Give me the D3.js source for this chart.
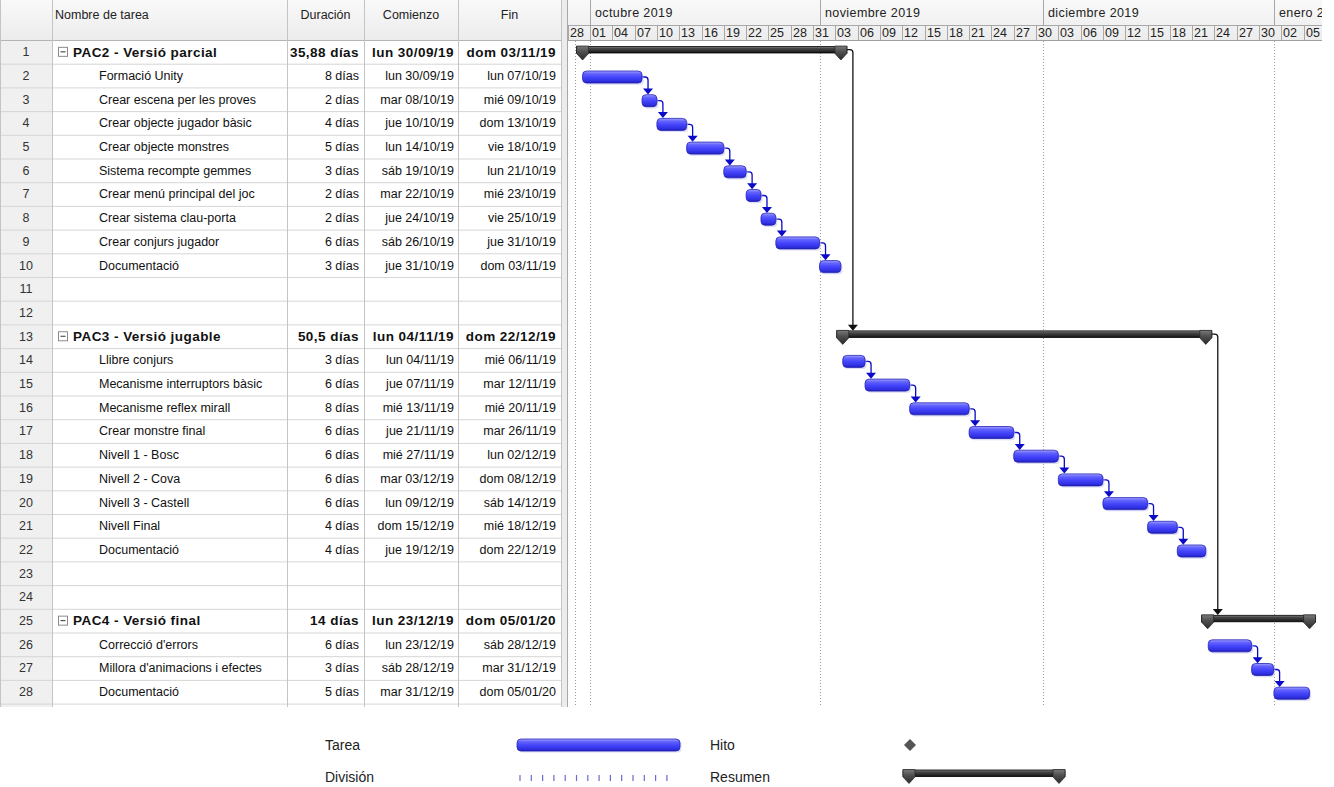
<!DOCTYPE html>
<html>
<head>
<meta charset="utf-8">
<script src="https://cdn.jsdelivr.net/npm/d3@7"></script>
<style>
  body { margin: 0; background: #fff; }
  svg { display: block; font-family: "Liberation Sans", Arial, sans-serif; }
</style>
</head>
<body>
<svg id="chart" width="1334" height="787"></svg>
<script>
// ---- Project data -------------------------------------------------------
const rowIds = d3.range(1, 29);

const taskNames = [
  "PAC2 - Versió parcial", "Formació Unity", "Crear escena per les proves",
  "Crear objecte jugador bàsic", "Crear objecte monstres", "Sistema recompte gemmes",
  "Crear menú principal del joc", "Crear sistema clau-porta", "Crear conjurs jugador",
  "Documentació", "", "",
  "PAC3 - Versió jugable", "Llibre conjurs", "Mecanisme interruptors bàsic",
  "Mecanisme reflex mirall", "Crear monstre final", "Nivell 1 - Bosc",
  "Nivell 2 - Cova", "Nivell 3 - Castell", "Nivell Final", "Documentació", "", "",
  "PAC4 - Versió final", "Correcció d'errors", "Millora d'animacions i efectes",
  "Documentació"
];

const summaryRows = [1, 13, 25];

const durations = [
  "35,88 días", "8 días", "2 días", "4 días", "5 días", "3 días", "2 días", "2 días",
  "6 días", "3 días", "", "",
  "50,5 días", "3 días", "6 días", "8 días", "6 días", "6 días", "6 días", "6 días",
  "4 días", "4 días", "", "",
  "14 días", "6 días", "3 días", "5 días"
];

const starts = [
  "2019-09-30 00:00", "2019-09-30 00:00", "2019-10-08 00:00", "2019-10-10 00:00",
  "2019-10-14 00:00", "2019-10-19 00:00", "2019-10-22 00:00", "2019-10-24 00:00",
  "2019-10-26 00:00", "2019-10-31 21:00", null, null,
  "2019-11-04 00:00", "2019-11-04 00:00", "2019-11-07 00:00", "2019-11-13 00:00",
  "2019-11-21 00:00", "2019-11-27 00:00", "2019-12-03 00:00", "2019-12-09 00:00",
  "2019-12-15 00:00", "2019-12-19 00:00", null, null,
  "2019-12-23 02:00", "2019-12-23 04:00", "2019-12-28 23:59", "2019-12-31 23:59"
];

const finishes = [
  "2019-11-03 18:00", "2019-10-07 23:59", "2019-10-09 23:59", "2019-10-13 23:59",
  "2019-10-18 23:59", "2019-10-21 23:59", "2019-10-23 23:59", "2019-10-25 23:59",
  "2019-10-31 21:00", "2019-11-03 18:00", null, null,
  "2019-12-22 20:00", "2019-11-06 23:59", "2019-11-12 23:59", "2019-11-20 23:59",
  "2019-11-26 23:59", "2019-12-02 23:59", "2019-12-08 23:59", "2019-12-14 23:59",
  "2019-12-18 23:59", "2019-12-22 20:00", null, null,
  "2020-01-05 19:00", "2019-12-28 23:59", "2019-12-31 23:00", "2020-01-05 19:00"
];

// predecessor -> successor (row ids)
const links = [
  [2, 3], [3, 4], [4, 5], [5, 6], [6, 7], [7, 8], [8, 9], [9, 10],
  [14, 15], [15, 16], [16, 17], [17, 18], [18, 19], [19, 20], [20, 21], [21, 22],
  [26, 27], [27, 28],
  [1, 13], [13, 25]
];

const columnHeads = ["Nombre de tarea", "Duración", "Comienzo", "Fin"];
const monthLabels = ["octubre 2019", "noviembre 2019", "diciembre 2019", "enero 2020"];
const gridDates = ["2019-09-29 00:00", "2019-10-01 00:00", "2019-11-01 00:00",
                   "2019-12-01 00:00", "2020-01-01 00:00"];
const legendLabels = ["Tarea", "División", "Hito", "Resumen"];

// ---- Formatting ---------------------------------------------------------
const locale = d3.timeFormatLocale({
  dateTime: "%A, %e de %B de %Y, %X", date: "%d/%m/%Y", time: "%H:%M:%S",
  periods: ["AM", "PM"],
  days: ["domingo", "lunes", "martes", "miércoles", "jueves", "viernes", "sábado"],
  shortDays: ["dom", "lun", "mar", "mié", "jue", "vie", "sáb"],
  months: ["enero", "febrero", "marzo", "abril", "mayo", "junio", "julio", "agosto",
           "septiembre", "octubre", "noviembre", "diciembre"],
  shortMonths: ["ene", "feb", "mar", "abr", "may", "jun", "jul", "ago", "sep", "oct", "nov", "dic"]
});
const fmtDate = locale.format("%a %d/%m/%y");
const fmtTick = locale.format("%d");
const parse = d3.timeParse("%Y-%m-%d %H:%M");

const rows = rowIds.map((id, i) => ({
  id,
  name: taskNames[i],
  summary: summaryRows.includes(id),
  duration: durations[i],
  start: starts[i] ? parse(starts[i]) : null,
  finish: finishes[i] ? parse(finishes[i]) : null
}));
const byId = new Map(rows.map(r => [r.id, r]));

// ---- Layout -------------------------------------------------------------
const headerH = 40, rowH = 23.7, tableTop = 40;
const colEdges = [0, 52, 287, 364, 458, 561];
const ganttX0 = 568, ganttX1 = 1322, bodyBottom = 707;
const font = 12.5, boldFont = 13.5;
const boldSpacing = "0.45px";

const x = d3.scaleTime()
  .domain([parse("2019-10-01 00:00"), parse("2020-01-01 00:00")])
  .range([590, 590 + 92 * 7.434]);
const rowTop = i => tableTop + i * rowH;

const svg = d3.select("#chart");
const defs = svg.append("defs");

function grad(id, stops) {
  const g = defs.append("linearGradient").attr("id", id)
    .attr("x1", 0).attr("y1", 0).attr("x2", 0).attr("y2", 1);
  stops.forEach(([o, c]) => g.append("stop").attr("offset", o).attr("stop-color", c));
}
grad("taskGrad", [["0%", "#a4a4ff"], ["22%", "#6464ff"], ["55%", "#4242fa"], ["85%", "#3030e0"], ["100%", "#1c1cb4"]]);
grad("sumGrad", [["0%", "#8a8a8a"], ["30%", "#474747"], ["70%", "#2c2c2c"], ["100%", "#111"]]);
grad("capGrad", [["0%", "#7a7a7a"], ["40%", "#505050"], ["100%", "#2a2a2a"]]);
grad("headGrad", [["0%", "#f9f9f9"], ["100%", "#ececec"]]);

defs.append("clipPath").attr("id", "ganttClip")
  .append("rect").attr("x", ganttX0).attr("y", 0)
  .attr("width", ganttX1 - ganttX0).attr("height", bodyBottom);

// ---- Table --------------------------------------------------------------
const table = svg.append("g");

// header band
table.append("rect").attr("x", 0).attr("y", 0).attr("width", colEdges[5]).attr("height", headerH)
  .attr("fill", "url(#headGrad)");
// row-number column
table.append("rect").attr("x", 0).attr("y", tableTop).attr("width", colEdges[1])
  .attr("height", bodyBottom - tableTop).attr("fill", "#f0f0f0");

// horizontal row lines
table.selectAll("line.hrow").data(d3.range(0, 29)).join("line")
  .attr("x1", 0).attr("x2", colEdges[5])
  .attr("y1", i => rowTop(i) + 0.5).attr("y2", i => rowTop(i) + 0.5)
  .attr("stroke", i => i === 0 ? "#b4b4b4" : "#d6d6d6");
// vertical column lines
table.selectAll("line.vcol").data(colEdges).join("line")
  .attr("x1", d => d + 0.5).attr("x2", d => d + 0.5)
  .attr("y1", 0).attr("y2", bodyBottom)
  .attr("stroke", "#c4c4c4");

// column headers
const headX = [55, (colEdges[2] + colEdges[3]) / 2, (colEdges[3] + colEdges[4]) / 2, (colEdges[4] + colEdges[5]) / 2];
table.selectAll("text.head").data(columnHeads).join("text")
  .attr("x", (d, i) => headX[i]).attr("y", 14.5).attr("dy", "0.35em")
  .attr("text-anchor", (d, i) => i === 0 ? "start" : "middle")
  .attr("font-size", font).attr("fill", "#222").text(d => d);

const rowG = table.selectAll("g.row").data(rows).join("g")
  .attr("transform", (d, i) => `translate(0,${rowTop(i) + rowH / 2})`);

rowG.append("text").attr("x", colEdges[1] / 2).attr("dy", "0.35em")
  .attr("text-anchor", "middle").attr("font-size", font).attr("fill", "#333")
  .text(d => d.id);

// collapse box for summary rows
const sumG = rowG.filter(d => d.summary);
sumG.append("rect").attr("x", 58.5).attr("y", -4.5).attr("width", 9).attr("height", 9)
  .attr("fill", "#fff").attr("stroke", "#8a8a8a");
sumG.append("line").attr("x1", 60.5).attr("x2", 65.5).attr("y1", 0).attr("y2", 0)
  .attr("stroke", "#333");

function cellText(sel, xPos, anchor, accessor) {
  sel.append("text").attr("x", xPos).attr("dy", "0.35em").attr("text-anchor", anchor)
    .attr("font-size", d => d.summary ? boldFont : font)
    .attr("font-weight", d => d.summary ? "bold" : "normal")
    .attr("letter-spacing", d => d.summary ? boldSpacing : null)
    .attr("fill", "#111").text(accessor);
}
cellText(rowG, d => d.summary ? 73 : 99, "start", d => d.name);
cellText(rowG, colEdges[3] - 5, "end", d => d.duration);
cellText(rowG, colEdges[4] - 4, "end", d => d.start ? fmtDate(d.start) : "");
cellText(rowG, colEdges[5] - 5, "end", d => d.finish ? fmtDate(d.finish) : "");

// splitter between table and chart
svg.append("rect").attr("x", 562).attr("y", 0).attr("width", 5).attr("height", bodyBottom)
  .attr("fill", "#ececec");
svg.append("line").attr("x1", 567.5).attr("x2", 567.5).attr("y1", 0).attr("y2", bodyBottom)
  .attr("stroke", "#a8a8a8");

// ---- Gantt --------------------------------------------------------------
const gantt = svg.append("g").attr("clip-path", "url(#ganttClip)");

// timescale header
gantt.append("rect").attr("x", ganttX0).attr("y", 0).attr("width", ganttX1 - ganttX0)
  .attr("height", headerH).attr("fill", "url(#headGrad)");

const months = d3.timeMonth.range(parse("2019-10-01 00:00"), parse("2020-02-01 00:00"));
gantt.selectAll("line.mon").data(months).join("line")
  .attr("x1", d => Math.round(x(d)) + 0.5).attr("x2", d => Math.round(x(d)) + 0.5)
  .attr("y1", 0).attr("y2", 25).attr("stroke", "#a8a8a8");
gantt.selectAll("text.mon").data(months).join("text")
  .attr("x", d => Math.round(x(d)) + 5).attr("y", 13).attr("dy", "0.35em")
  .attr("letter-spacing", "0.4px")
  .attr("font-size", font).attr("fill", "#222").text((d, i) => monthLabels[i]);

const ticks = d3.timeDay.range(parse("2019-09-28 00:00"), parse("2020-01-12 00:00"), 3);
gantt.append("line").attr("x1", ganttX0).attr("x2", ganttX1).attr("y1", 25.5).attr("y2", 25.5)
  .attr("stroke", "#a8a8a8");
gantt.selectAll("line.tick").data(ticks).join("line")
  .attr("x1", d => Math.round(x(d)) + 0.5).attr("x2", d => Math.round(x(d)) + 0.5)
  .attr("y1", 25).attr("y2", headerH).attr("stroke", "#a8a8a8");
gantt.selectAll("text.tick").data(ticks).join("text")
  .attr("x", d => Math.round(x(d)) + 2).attr("y", 33).attr("dy", "0.35em")
  .attr("font-size", font).attr("fill", "#222").text(d => fmtTick(d));
gantt.append("line").attr("x1", ganttX0).attr("x2", ganttX1).attr("y1", headerH + 0.5).attr("y2", headerH + 0.5)
  .attr("stroke", "#a0a0a0");

// dotted gridlines
gantt.selectAll("line.grid").data(gridDates.map(parse)).join("line")
  .attr("x1", d => Math.round(x(d)) + 0.5).attr("x2", d => Math.round(x(d)) + 0.5)
  .attr("y1", headerH + 1).attr("y2", bodyBottom)
  .attr("stroke", "#9c9c9c").attr("stroke-dasharray", "1,2");

const indexOf = id => id - 1;
const bars = rows.filter(r => r.start && !r.summary);
const sums = rows.filter(r => r.summary);

// links
const linkG = gantt.append("g");
links.forEach(([a, b]) => {
  const p = byId.get(a);
  const isSum = p.summary;
  const endX = isSum ? x(p.finish) + 6 : x(p.finish);
  const cy = isSum ? rowTop(indexOf(a)) + 9.7 : rowTop(indexOf(a)) + 13.3;
  const ax = endX + 6;
  const tipY = isSum ? rowTop(indexOf(b)) + 6.3 : rowTop(indexOf(b)) + 7;
  const col = isSum ? "#111" : "#0a0ac8";
  linkG.append("path")
    .attr("d", `M${endX},${cy} H${ax - 3} Q${ax},${cy} ${ax},${cy + 3} V${tipY - 5}`)
    .attr("fill", "none").attr("stroke", col).attr("stroke-width", 1.3);
  linkG.append("path")
    .attr("d", `M${ax - 5},${tipY - 6} L${ax + 5},${tipY - 6} L${ax},${tipY} Z`)
    .attr("fill", col);
});

// task bars
const barG = gantt.append("g");
barG.selectAll("rect.shadow").data(bars).join("rect")
  .attr("x", d => x(d.start) + 1.5).attr("y", d => rowTop(indexOf(d.id)) + 9)
  .attr("width", d => x(d.finish) - x(d.start)).attr("height", 12).attr("rx", 4)
  .attr("fill", "#c4c4ee").attr("opacity", 0.6);
barG.selectAll("rect.bar").data(bars).join("rect")
  .attr("x", d => x(d.start)).attr("y", d => rowTop(indexOf(d.id)) + 7.3)
  .attr("width", d => x(d.finish) - x(d.start)).attr("height", 12).attr("rx", 4)
  .attr("fill", "url(#taskGrad)").attr("stroke", "#2424b8").attr("stroke-width", 0.8);

// summary bars
function summaryShape(g, x0, x1, top) {
  g.append("rect").attr("x", x0 - 6).attr("y", top).attr("width", x1 - x0 + 12).attr("height", 6.5)
    .attr("fill", "url(#sumGrad)").attr("stroke", "#000").attr("stroke-width", 0.8);
  [x0, x1].forEach(cx => {
    g.append("path")
      .attr("d", `M${cx - 6},${top - 0.5} H${cx + 6} V${top + 7} L${cx},${top + 13.5} L${cx - 6},${top + 7} Z`)
      .attr("fill", "url(#capGrad)").attr("stroke", "#222").attr("stroke-width", 0.7);
  });
}
sums.forEach(d => summaryShape(gantt.append("g"), x(d.start), x(d.finish), rowTop(indexOf(d.id)) + 6.5));

// ---- Legend -------------------------------------------------------------
const leg = svg.append("g").attr("font-size", 14).attr("fill", "#222");
leg.append("text").attr("x", 325).attr("y", 745).attr("dy", "0.35em").text(legendLabels[0]);
leg.append("text").attr("x", 325).attr("y", 777).attr("dy", "0.35em").text(legendLabels[1]);
leg.append("text").attr("x", 710).attr("y", 745).attr("dy", "0.35em").text(legendLabels[2]);
leg.append("text").attr("x", 710).attr("y", 777).attr("dy", "0.35em").text(legendLabels[3]);

leg.append("rect").attr("x", 518.5).attr("y", 740.5).attr("width", 163).attr("height", 12).attr("rx", 4)
  .attr("fill", "#c4c4ee").attr("opacity", 0.6);
leg.append("rect").attr("x", 517).attr("y", 739).attr("width", 163).attr("height", 12).attr("rx", 4)
  .attr("fill", "url(#taskGrad)").attr("stroke", "#2424b8").attr("stroke-width", 0.8);

leg.selectAll("line.split").data(d3.range(14)).join("line")
  .attr("x1", i => 520 + i * 11.3).attr("x2", i => 520 + i * 11.3)
  .attr("y1", 775).attr("y2", 781).attr("stroke", "#6a6ad0").attr("stroke-width", 1.2);

leg.append("path").attr("d", "M910,739 L916,745 L910,751 L904,745 Z").attr("fill", "#555");

summaryShape(leg.append("g"), 909, 1059, 770);
</script>
</body>
</html>
